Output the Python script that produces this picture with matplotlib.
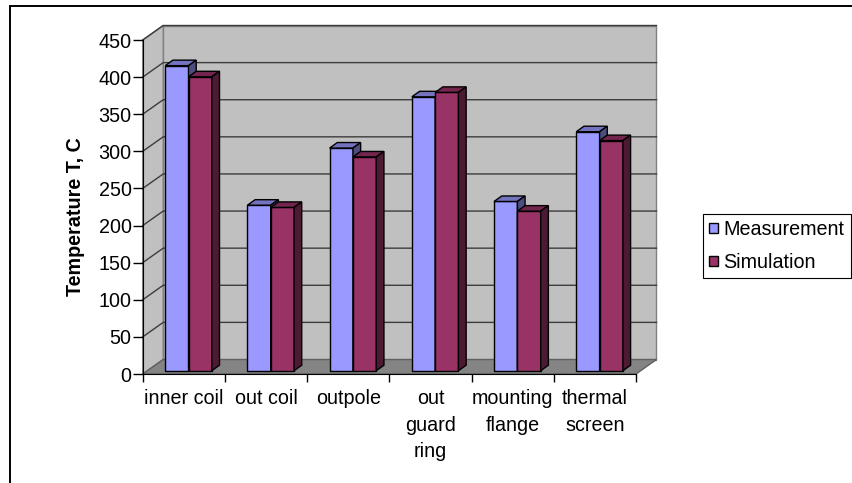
import numpy as np
import matplotlib.pyplot as plt
from matplotlib.patches import Polygon, Patch, Rectangle

plt.rcParams['font.family'] = ['Liberation Sans', 'DejaVu Sans']

categories = ['inner coil', 'out coil', 'outpole', 'out\nguard\nring',
              'mounting\nflange', 'thermal\nscreen']
measurement = [411, 223, 300, 369, 228, 322]
simulation = [396, 220, 288, 375, 215, 310]
series = ['Measurement', 'Simulation']

# front, top and side shades for each series
front = ['#9999FF', '#993366']
top = ['#7373BF', '#73264D']
side = ['#4D4D80', '#4D1A33']

FS = 14.2
W, H = 853, 483
fig = plt.figure(figsize=(W / 100, H / 100), dpi=100)
# axes = front plane of the 3d box
x0, x1, y0, y1 = 142.7, 636.0, 374.0, 40.0
ax = fig.add_axes([x0 / W, 1 - y0 / H, (x1 - x0) / W, (y0 - y1) / H])
ax.set_xlim(-0.5, 5.5)
ax.set_ylim(0, 450)
ax.patch.set_visible(False)

n = len(categories)
px_x = (x1 - x0) / n          # pixels per category
px_y = (y0 - y1) / 450        # pixels per degree
# depth of the box and of one bar, in data units
dx, dy = 20.5 / px_x, 14.5 / px_y
bdx, bdy = 7.7 / px_x, 5.5 / px_y
# bars sit a little way into the box
sx, sy = 4.7 / px_x, 3.3 / px_y
bw = 23.3 / px_x

L, R = -0.5, n - 0.5
wall_kw = dict(clip_on=False, lw=1, zorder=0.5)
ax.add_patch(Polygon([(L + dx, dy), (R + dx, dy), (R + dx, 450 + dy), (L + dx, 450 + dy)],
                     fc='#C0C0C0', ec='#808080', **wall_kw))
ax.add_patch(Polygon([(L, 0), (L + dx, dy), (L + dx, 450 + dy), (L, 450)],
                     fc='#C0C0C0', ec='#808080', **wall_kw))
ax.add_patch(Polygon([(L, 0), (R, 0), (R + dx, dy), (L + dx, dy)],
                     fc='#848484', ec='#606060', **wall_kw))

ticks = np.arange(0, 451, 50)
for v in ticks[1:]:
    ax.plot([L, L + dx, R + dx], [v, v + dy, v + dy], color='#3C3C3C', lw=1,
            clip_on=False, zorder=1)

x = np.arange(n)
for k, vals in enumerate([measurement, simulation]):
    xs = x + sx + (k - 1) * bw + bw / 2
    ax.bar(xs, vals, width=bw, bottom=sy, color=front[k], edgecolor='black',
           lw=1, zorder=3 + k, clip_on=False)
    for xc, v in zip(xs, vals):
        xl, xr, yt = xc - bw / 2, xc + bw / 2, sy + v
        ax.add_patch(Polygon([(xl, yt), (xr, yt), (xr + bdx, yt + bdy), (xl + bdx, yt + bdy)],
                             fc=top[k], ec='black', lw=1, zorder=3 + k, clip_on=False))
        ax.add_patch(Polygon([(xr, sy), (xr + bdx, sy + bdy), (xr + bdx, yt + bdy), (xr, yt)],
                             fc=side[k], ec='black', lw=1, zorder=3 + k, clip_on=False))

for s in ['top', 'right']:
    ax.spines[s].set_visible(False)
ax.spines['left'].set_zorder(6)
ax.spines['bottom'].set_zorder(6)

ax.set_yticks(ticks)
ax.tick_params(axis='y', direction='out', length=7, width=1, pad=1, labelsize=FS)
ax.set_xticks(np.arange(n + 1) - 0.5, labels=[''] * (n + 1))
ax.set_xticks(x, labels=categories, minor=True)
ax.tick_params(axis='x', which='major', direction='out', length=5.5, width=1)
ax.tick_params(axis='x', which='minor', length=0, pad=11, labelsize=FS)
for t in ax.get_xticklabels(minor=True):
    t.set_linespacing(1.5)

ax.set_ylabel('Temperature T, C', fontsize=FS, fontweight='bold')
ax.yaxis.set_label_coords(-0.117, 0.47)

handles = [Patch(facecolor=c, edgecolor='black', lw=1) for c in front]
leg = fig.legend(handles, series, loc='center left',
                 bbox_to_anchor=(703 / W, 1 - 246 / H), fontsize=FS,
                 frameon=True, fancybox=False, framealpha=1, edgecolor='black',
                 borderaxespad=0, borderpad=0.32, handlelength=0.42,
                 handleheight=0.42, handletextpad=0.3, labelspacing=0.72)
leg.get_frame().set_linewidth(0.8)

fig.add_artist(Rectangle((10 / W, -0.05), 1.0, 1.05 - 6 / H, transform=fig.transFigure,
                         fill=False, ec='black', lw=1.4))

fig.savefig('out.png', dpi=100)
